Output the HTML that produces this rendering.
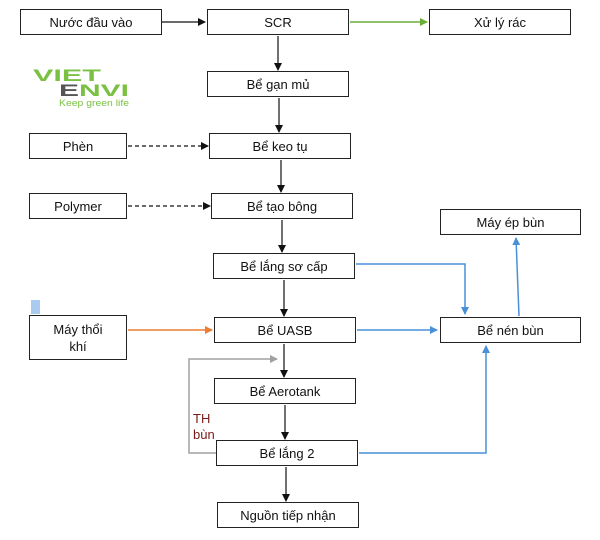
<!DOCTYPE html>
<html><head><meta charset="utf-8"><style>
body{margin:0;background:#fff;width:600px;height:540px;overflow:hidden;position:relative;font-family:"Liberation Sans",Arial,sans-serif}
.b{position:absolute;border:1.5px solid #222;box-sizing:border-box;background:#fff;display:flex;align-items:center;justify-content:center;text-align:center;font-size:13px;color:#111;line-height:17px}
svg{position:absolute;left:0;top:0}
</style></head><body>
<svg width="600" height="540">
<defs>
<marker id="k" markerWidth="8" markerHeight="8" refX="7" refY="4" orient="auto" markerUnits="userSpaceOnUse"><path d="M0,0L8,4L0,8z" fill="#111"/></marker>
<marker id="g" markerWidth="8" markerHeight="8" refX="7" refY="4" orient="auto" markerUnits="userSpaceOnUse"><path d="M0,0L8,4L0,8z" fill="#6aae3a"/></marker>
<marker id="o" markerWidth="8" markerHeight="8" refX="7" refY="4" orient="auto" markerUnits="userSpaceOnUse"><path d="M0,0L8,4L0,8z" fill="#ed7d31"/></marker>
<marker id="u" markerWidth="8" markerHeight="8" refX="7" refY="4" orient="auto" markerUnits="userSpaceOnUse"><path d="M0,0L8,4L0,8z" fill="#4a90d9"/></marker>
<marker id="y" markerWidth="8" markerHeight="8" refX="7" refY="4" orient="auto" markerUnits="userSpaceOnUse"><path d="M0,0L8,4L0,8z" fill="#a0a0a0"/></marker>
</defs>
<g stroke="#111" stroke-width="1.2" fill="none">
<path d="M162,22H205" marker-end="url(#k)"/>
<path d="M278,36V70" marker-end="url(#k)"/>
<path d="M279,98V132" marker-end="url(#k)"/>
<path d="M281,160V192" marker-end="url(#k)"/>
<path d="M282,220V252" marker-end="url(#k)"/>
<path d="M284,280V316" marker-end="url(#k)"/>
<path d="M284,344V377" marker-end="url(#k)"/>
<path d="M285,405V439" marker-end="url(#k)"/>
<path d="M286,467V501" marker-end="url(#k)"/>
<path d="M128,146H208" stroke-dasharray="4,3" marker-end="url(#k)"/>
<path d="M128,206H210" stroke-dasharray="4,3" marker-end="url(#k)"/>
</g>
<path d="M350,22H427" stroke="#6aae3a" stroke-width="1.5" fill="none" marker-end="url(#g)"/>
<path d="M128,330H212" stroke="#ed7d31" stroke-width="1.5" fill="none" marker-end="url(#o)"/>
<g stroke="#4a90d9" stroke-width="1.5" fill="none">
<path d="M356,264H465V314" marker-end="url(#u)"/>
<path d="M519,316L516,238" marker-end="url(#u)"/>
<path d="M357,330H437" marker-end="url(#u)"/>
<path d="M359,453H486V346" marker-end="url(#u)"/>
</g>
<path d="M216,453H189V359H277" stroke="#a0a0a0" stroke-width="1.5" fill="none" marker-end="url(#y)"/>
<rect x="31" y="300" width="9" height="14" fill="#a9cbef"/>
<text x="33" y="81" font-size="17" font-weight="bold" fill="#7ac143" font-family="Liberation Sans" textLength="68" lengthAdjust="spacingAndGlyphs">VIET</text>
<text x="59" y="96" font-size="17" font-weight="bold" fill="#7ac143" font-family="Liberation Sans" textLength="70" lengthAdjust="spacingAndGlyphs"><tspan fill="#555">E</tspan>NVI</text>
<text x="59" y="106" font-size="9" fill="#7ac143" font-family="Liberation Sans" textLength="70" lengthAdjust="spacingAndGlyphs">Keep green life</text>
<text x="193" y="423" font-size="13" fill="#7a1a1a" font-family="Liberation Sans">TH</text>
<text x="193" y="439" font-size="13" fill="#7a1a1a" font-family="Liberation Sans">bùn</text>
</svg>
<div class="b" style="left:20px;top:9px;width:142px;height:26px">Nước đầu vào</div>
<div class="b" style="left:207px;top:9px;width:142px;height:26px">SCR</div>
<div class="b" style="left:429px;top:9px;width:142px;height:26px">Xử lý rác</div>
<div class="b" style="left:207px;top:71px;width:142px;height:26px">Bể gạn mủ</div>
<div class="b" style="left:29px;top:133px;width:98px;height:26px">Phèn</div>
<div class="b" style="left:209px;top:133px;width:142px;height:26px">Bể keo tụ</div>
<div class="b" style="left:29px;top:193px;width:98px;height:26px">Polymer</div>
<div class="b" style="left:211px;top:193px;width:142px;height:26px">Bể tạo bông</div>
<div class="b" style="left:440px;top:209px;width:141px;height:26px">Máy ép bùn</div>
<div class="b" style="left:213px;top:253px;width:142px;height:26px">Bể lắng sơ cấp</div>
<div class="b" style="left:29px;top:315px;width:98px;height:45px">Máy thổi<br>khí</div>
<div class="b" style="left:214px;top:317px;width:142px;height:26px">Bể UASB</div>
<div class="b" style="left:440px;top:317px;width:141px;height:26px">Bể nén bùn</div>
<div class="b" style="left:214px;top:378px;width:142px;height:26px">Bể Aerotank</div>
<div class="b" style="left:216px;top:440px;width:142px;height:26px">Bể lắng 2</div>
<div class="b" style="left:217px;top:502px;width:142px;height:26px">Nguồn tiếp nhận</div>
</body></html>
